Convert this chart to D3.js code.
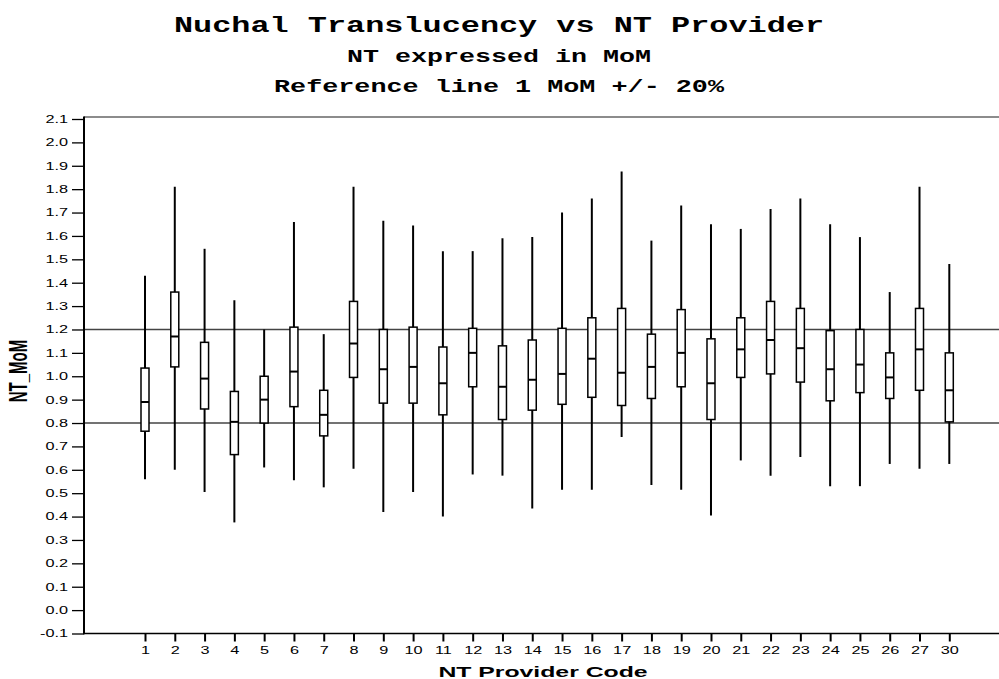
<!DOCTYPE html>
<html>
<head>
<meta charset="utf-8">
<script src="https://cdn.jsdelivr.net/npm/d3@7"></script>
<style>
  body { margin: 0; background: #fff; }
  svg { display: block; }
  .axis text { font-family: "Liberation Sans", Arial, sans-serif; font-size: 10.5px; fill: #000; }
  .axis line { stroke: #000; }
</style>
</head>
<body>
<svg id="chart"></svg>
<script>
// NT MoM by provider: whiskers, quartiles and medians
const providers = ['1','2','3','4','5','6','7','8','9','10','11','12','13','14','15',
  '16','17','18','19','20','21','22','23','24','25','26','27','30'];
const whiskerHigh = [1.43, 1.81, 1.545, 1.325, 1.20, 1.66, 1.18, 1.81, 1.665, 1.645, 1.535, 1.535, 1.59, 1.595,
  1.70, 1.76, 1.875, 1.58, 1.73, 1.65, 1.63, 1.715, 1.76, 1.65, 1.595, 1.36, 1.81, 1.48];
const q3 = [1.035, 1.36, 1.145, 0.935, 1.00, 1.21, 0.94, 1.32, 1.20, 1.21, 1.125, 1.205, 1.13, 1.155,
  1.205, 1.25, 1.29, 1.18, 1.285, 1.16, 1.25, 1.32, 1.29, 1.195, 1.20, 1.10, 1.29, 1.10];
const medians = [0.89, 1.17, 0.99, 0.805, 0.90, 1.02, 0.835, 1.14, 1.03, 1.04, 0.97, 1.10, 0.955, 0.985,
  1.01, 1.075, 1.015, 1.04, 1.10, 0.97, 1.115, 1.155, 1.12, 1.03, 1.05, 0.995, 1.115, 0.94];
const q1 = [0.765, 1.04, 0.86, 0.665, 0.80, 0.87, 0.745, 0.995, 0.885, 0.885, 0.835, 0.955, 0.815, 0.855,
  0.88, 0.91, 0.875, 0.905, 0.955, 0.815, 0.995, 1.01, 0.975, 0.895, 0.93, 0.905, 0.94, 0.805];
const whiskerLow = [0.56, 0.60, 0.505, 0.375, 0.61, 0.555, 0.525, 0.605, 0.42, 0.505, 0.40, 0.58, 0.575, 0.435,
  0.515, 0.515, 0.74, 0.535, 0.515, 0.405, 0.64, 0.575, 0.655, 0.53, 0.53, 0.625, 0.605, 0.625];
const yTicks = [-0.1, 0.0, 0.1, 0.2, 0.3, 0.4, 0.5, 0.6, 0.7, 0.8, 0.9, 1.0, 1.1,
  1.2, 1.3, 1.4, 1.5, 1.6, 1.7, 1.8, 1.9, 2.0, 2.1];
const refLines = [1.2, 0.8];
const titleLines = ['Nuchal Translucency vs NT Provider', 'NT expressed in MoM', 'Reference line 1 MoM +/- 20%'];

const config = {
  width: 999, height: 679,
  plotLeft: 84, plotRight: 999,
  plotTop: 119, plotBottom: 633.5,
  firstX: 145, lastX: 949.3,
  boxWidth: 8,
  stretch: 1.55   // the source picture is stretched sideways, text follows it
};

const rows = providers.map((p, i) => ({
  provider: p, hi: whiskerHigh[i], q3: q3[i], med: medians[i], q1: q1[i], lo: whiskerLow[i]
}));

const svg = d3.select('#chart')
  .attr('width', config.width)
  .attr('height', config.height);

const yScale = d3.scaleLinear()
  .domain([-0.1, 2.1])
  .range([config.plotBottom, config.plotTop]);

const xScale = d3.scalePoint()
  .domain(providers)
  .range([config.firstX, config.lastX]);

// frame: top line, left axis, bottom axis line
svg.append('line')
  .attr('x1', config.plotLeft).attr('x2', config.plotRight)
  .attr('y1', config.plotTop - 2).attr('y2', config.plotTop - 2)
  .attr('stroke', '#666').attr('stroke-width', 1.5);

// reference lines at 1 MoM +/- 20%
svg.selectAll('.ref-line')
  .data(refLines)
  .join('line')
  .attr('class', 'ref-line')
  .attr('x1', config.plotLeft).attr('x2', config.plotRight)
  .attr('y1', d => yScale(d)).attr('y2', d => yScale(d))
  .attr('stroke', '#444').attr('stroke-width', 1.3);

// y axis
const yAxis = d3.axisLeft(yScale)
  .tickValues(yTicks)
  .tickSize(12)
  .tickSizeOuter(0)
  .tickFormat(d => d.toFixed(1));

const yAxisG = svg.append('g')
  .attr('class', 'axis y-axis')
  .attr('transform', `translate(${config.plotLeft},0)`)
  .call(yAxis);
yAxisG.select('.domain').remove();
yAxisG.selectAll('.tick line').attr('stroke-width', 1.3);
yAxisG.selectAll('.tick text')
  .attr('x', -16 / config.stretch)
  .attr('transform', `scale(${config.stretch},1)`);

// x axis
const xAxis = d3.axisBottom(xScale)
  .tickSize(8)
  .tickSizeOuter(0)
  .tickPadding(5);

const xAxisG = svg.append('g')
  .attr('class', 'axis x-axis')
  .attr('transform', `translate(0,${config.plotBottom})`)
  .call(xAxis);
xAxisG.select('.domain').remove();
xAxisG.selectAll('.tick line').attr('stroke-width', 2);
xAxisG.selectAll('.tick text')
  .attr('transform', `scale(${config.stretch},1)`);

svg.append('line')
  .attr('x1', config.plotLeft).attr('x2', config.plotRight)
  .attr('y1', config.plotBottom).attr('y2', config.plotBottom)
  .attr('stroke', '#000').attr('stroke-width', 1.5);
svg.append('line')
  .attr('x1', config.plotLeft).attr('x2', config.plotLeft)
  .attr('y1', config.plotTop - 2.5).attr('y2', config.plotBottom + 0.7)
  .attr('stroke', '#000').attr('stroke-width', 2);

// boxes
const box = svg.selectAll('.box')
  .data(rows)
  .join('g')
  .attr('class', 'box')
  .attr('transform', d => `translate(${xScale(d.provider)},0)`);

box.append('line')
  .attr('class', 'whisker')
  .attr('x1', 0).attr('x2', 0)
  .attr('y1', d => yScale(d.hi))
  .attr('y2', d => yScale(d.lo))
  .attr('stroke', '#000')
  .attr('stroke-width', 2);

box.append('rect')
  .attr('x', -config.boxWidth / 2)
  .attr('width', config.boxWidth)
  .attr('y', d => yScale(d.q3))
  .attr('height', d => yScale(d.q1) - yScale(d.q3))
  .attr('fill', '#fff')
  .attr('stroke', '#000')
  .attr('stroke-width', 1.5);

box.append('line')
  .attr('class', 'median')
  .attr('x1', -config.boxWidth / 2).attr('x2', config.boxWidth / 2)
  .attr('y1', d => yScale(d.med))
  .attr('y2', d => yScale(d.med))
  .attr('stroke', '#000')
  .attr('stroke-width', 2);

// axis titles
svg.append('text')
  .attr('transform', `translate(543,677) scale(1.6,1)`)
  .attr('text-anchor', 'middle')
  .style('font-family', '"Liberation Sans", Arial, sans-serif')
  .style('font-weight', 'bold')
  .style('font-size', '15.5px')
  .text('NT Provider Code');

svg.append('text')
  .attr('transform', `translate(27,371) scale(1.7,1) rotate(-90)`)
  .attr('text-anchor', 'middle')
  .style('font-family', '"Liberation Sans", Arial, sans-serif')
  .style('font-weight', 'bold')
  .style('font-size', '15px')
  .text('NT_MoM');

// titles
const titleSpec = [
  {y: 32, size: 22, len: 650},
  {y: 62, size: 18, len: 304},
  {y: 92, size: 18, len: 450}
];
svg.selectAll('.title')
  .data(titleLines)
  .join('text')
  .attr('class', 'title')
  .attr('x', 499)
  .attr('y', (d, i) => titleSpec[i].y)
  .attr('text-anchor', 'middle')
  .attr('textLength', (d, i) => titleSpec[i].len)
  .attr('lengthAdjust', 'spacingAndGlyphs')
  .style('font-family', '"Liberation Mono", "DejaVu Sans Mono", monospace')
  .style('font-weight', 'bold')
  .style('font-size', (d, i) => titleSpec[i].size + 'px')
  .text(d => d);
</script>
</body>
</html>
